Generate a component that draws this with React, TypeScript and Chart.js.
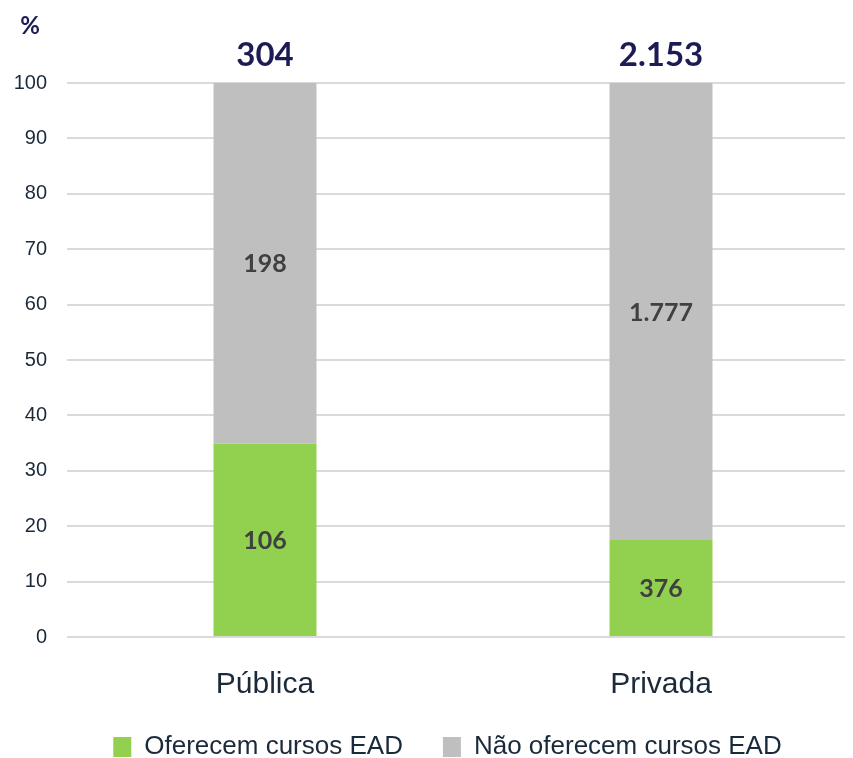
import React, { useEffect, useRef } from "react";
import { Chart, registerables } from "chart.js";

Chart.register(...registerables);

const categories = ["Pública", "Privada"];
const seriesNames = ["Oferecem cursos EAD", "Não oferecem cursos EAD"];
const offerPct = [34.9, 17.5];
const noOfferPct = [65.1, 82.5];
const offerCount = [106, 376];
const noOfferCount = [198, 1777];
const totalCount = [304, 2153];

const fmt = (n: number) => String(n).replace(/\B(?=(\d{3})+(?!\d))/g, ".");

const NAVY = "#1b1b55";
const TEXT = "#1b2a3a";
const LABEL = "#404040";

const labelPlugin = {
  id: "labels",
  afterLayout(chart: any) {
    const lg = chart.legend;
    if (lg) {
      lg.left += 12;
      lg.right += 12;
    }
  },
  afterDatasetsDraw(chart: any) {
    const ctx = chart.ctx;
    ctx.save();
    ctx.textAlign = "center";
    ctx.textBaseline = "middle";
    ctx.fillStyle = LABEL;
    ctx.font = "700 25px Lato, 'Open Sans', sans-serif";
    const counts = [offerCount, noOfferCount];
    chart.data.datasets.forEach((_ds: any, di: number) => {
      const meta = chart.getDatasetMeta(di);
      meta.data.forEach((el: any, i: number) => {
        const y = (el.y + el.base) / 2;
        ctx.fillText(fmt(counts[di][i]), el.x, y + 1);
      });
    });
    const top = chart.getDatasetMeta(1);
    ctx.fillStyle = NAVY;
    ctx.font = "700 33px Lato, 'Open Sans', sans-serif";
    top.data.forEach((el: any, i: number) => {
      ctx.fillText(fmt(totalCount[i]), el.x, chart.chartArea.top - 28);
    });
    ctx.font = "700 24px Lato, 'Open Sans', sans-serif";
    ctx.fillText("%", 22, 18);
    ctx.restore();
  },
};

export default function App() {
  const ref = useRef<HTMLCanvasElement>(null);
  useEffect(() => {
    if (!ref.current) return;
    const chart = new Chart(ref.current, {
      type: "bar",
      data: {
        labels: categories,
        datasets: [
          {
            label: seriesNames[0],
            data: offerPct,
            backgroundColor: "#92d050",
            borderWidth: 0,
            barPercentage: 0.26,
            categoryPercentage: 1,
          },
          {
            label: seriesNames[1],
            data: noOfferPct,
            backgroundColor: "#bfbfbf",
            borderWidth: 0,
            barPercentage: 0.26,
            categoryPercentage: 1,
          },
        ],
      },
      options: {
        animation: false,
        responsive: false,
        maintainAspectRatio: false,
        layout: { padding: { left: 4, right: 9, top: 75, bottom: 0 } },
        plugins: {
          tooltip: { enabled: false },
          legend: {
            position: "bottom",
            labels: {
              boxWidth: 18,
              boxHeight: 20,
              padding: 40,
              color: TEXT,
              font: { family: "'Liberation Sans', Arial, sans-serif", size: 26 },
            },
          },
        },
        scales: {
          x: {
            stacked: true,
            afterFit: (s: any) => {
              s.height = s.height - 39;
            },
            grid: { display: false, drawTicks: false },
            border: { display: false },
            ticks: {
              padding: 30,
              color: TEXT,
              font: { family: "'Liberation Sans', Arial, sans-serif", size: 30 },
            },
          },
          y: {
            stacked: true,
            min: 0,
            max: 100,
            afterFit: (s: any) => {
              s.width = 55;
            },
            grid: { color: "#dadada", lineWidth: 2, drawTicks: false },
            border: { display: false },
            ticks: {
              stepSize: 10,
              padding: 20,
              color: TEXT,
              font: { family: "'Liberation Sans', Arial, sans-serif", size: 20 },
            },
          },
        },
      },
      plugins: [labelPlugin],
    });
    return () => chart.destroy();
  }, []);
  return (
    <div style={{ width: 845, height: 750, overflow: "hidden" }}>
      <canvas ref={ref} width={860} height={762} style={{ display: "block", width: 860, height: 762 }} />
    </div>
  );
}
